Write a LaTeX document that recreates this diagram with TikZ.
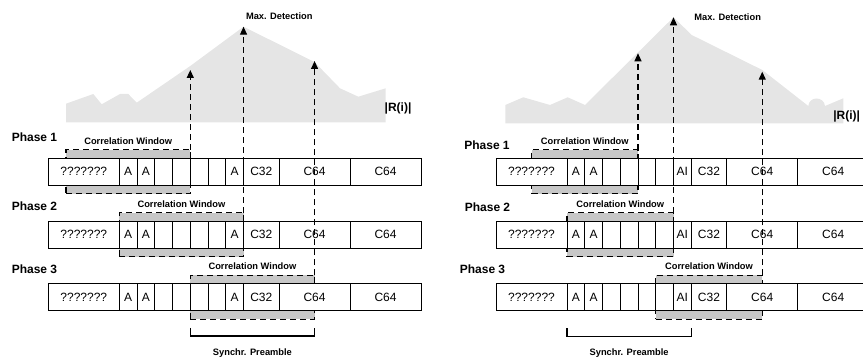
\documentclass[tikz,border=0pt]{standalone}
\usepackage{fontspec}
\setmainfont{Liberation Sans}
\usetikzlibrary{arrows.meta,positioning}

\def\cellw{17.75}
% one frame row: #1 name, #2 left x, #3 centre y, #4 text of last A cell
\newcommand{\framerow}[4]{%
  \foreach \ci/\cpos/\cwid/\ctext in {0/0/4/???????,1/4/1/A,2/5/1/A,3/6/1/{},4/7/1/{},5/8/1/{},6/9/1/{},7/10/1/#4,8/11/2/C32,9/13/4/C64,10/17/4/C64}
    \node[cell,minimum width=\cwid*\cellw,anchor=west] (#1c\ci) at ({#2+\cpos*\cellw},#3) {\ctext};
}

\begin{document}
\begin{tikzpicture}
	[x=1pt,y=-1pt,
	cell/.style={draw=black,fill=white,line width=1pt,minimum height=27,inner sep=0pt,outer sep=0pt,font=\fontsize{12}{14}\selectfont},
	window/.style={draw=black,fill=black!22,dash pattern=on 6pt off 4pt,line width=1.2pt,minimum height=44,inner sep=0pt,outer sep=0pt},
	detect/.style={draw=black,dash pattern=on 6pt off 4pt,line width=1.2pt,-{Triangle[width=7pt,length=8pt]}},
	tag/.style={font=\bfseries\fontsize{9.3}{11}\selectfont,inner sep=0pt},
	phase/.style={font=\bfseries\fontsize{12}{14}\selectfont,inner sep=0pt}]
	\clip (0,0) rectangle (863,358);
	
	% left half
	\fill[black!10] (66,122.3) -- (66,103.7) -- (93.3,94) -- (101.7,104.3) -- (120,94) -- (128.3,94) -- (136.7,102.7)
	-- (190.3,66) -- (243.5,26.7) -- (314.5,62) -- (340,88.3) -- (358.3,96.7) -- (385.7,88.3) -- (385.7,122.3) -- cycle;
	\node[tag] (Lmax) at (279.3,15.7) {Max. Detection};
	\node[phase] (Lri) at (398,108.3) {|R(i)|};
	
	\node[window,minimum width=7*\cellw,anchor=west] (LW1) at ({48.3+1*\cellw},171.7) {};
	\node[window,minimum width=7*\cellw,anchor=west] (LW2) at ({48.3+4*\cellw},234.6) {};
	\node[window,minimum width=7*\cellw,anchor=west] (LW3) at ({48.3+8*\cellw},297.2) {};
	\node[tag,above=5pt of LW1] (LW1lbl) {Correlation Window};
	\node[tag,above=5pt of LW2] (LW2lbl) {Correlation Window};
	\node[tag,above=5pt of LW3] (LW3lbl) {Correlation Window};
	
	\framerow{L1}{48.3}{171.7}{A}
	\framerow{L2}{48.3}{234.6}{A}
	\framerow{L3}{48.3}{297.2}{A}
	
	\node[phase] (Lph1) at (34.5,137) {Phase 1};
	\node[phase] (Lph2) at (34.5,206.7) {Phase 2};
	\node[phase] (Lph3) at (34.5,269) {Phase 3};
	
	\coordinate (LT1) at ({48.3+8*\cellw},70);
	\coordinate (LT2) at ({48.3+11*\cellw},26.7);
	\coordinate (LT3) at ({48.3+15*\cellw},61);
	\foreach \w in {1,2,3}
	\draw[detect] (LW\w.north east) -- (LT\w);
	
	\coordinate (LB1) at ({48.3+8*\cellw},328);
	\coordinate (LB2) at ({48.3+15*\cellw},328);
	\draw[line width=1.2pt] (LB1) -- ++(0,8) -| (LB2);
	\node[tag] (LBlbl) at ({48.3+11.5*\cellw},353.3) {Synchr. Preamble};
	
	% right half
	\fill[black!10] (505.3,123.3) -- (505.3,105) -- (523.3,97.3) -- (550,105) -- (567.7,97.3) -- (585,105)
	-- (673.5,17.3) -- (691.7,35) -- (762.3,70) -- (808.3,106) .. controls (809,96) and (824,96) .. (825,106)
	-- (843.3,98.3) -- (843.3,123.3) -- cycle;
	\node[tag] (Rmax) at (727.7,16.7) {Max. Detection};
	\node[phase] (Rri) at (846.7,116.7) {|R(i)|};
	
	\node[window,minimum width=6*\cellw,anchor=west] (RW1) at ({496+2*\cellw},171.7) {};
	\node[window,minimum width=6*\cellw,anchor=west] (RW2) at ({496+4*\cellw},234.6) {};
	\node[window,minimum width=6*\cellw,anchor=west] (RW3) at ({496+9*\cellw},297.2) {};
	\node[tag,above=5pt of RW1] (RW1lbl) {Correlation Window};
	\node[tag,above=5pt of RW2] (RW2lbl) {Correlation Window};
	\node[tag,above=5pt of RW3] (RW3lbl) {Correlation Window};
	
	\framerow{R1}{496}{171.7}{AI}
	\framerow{R2}{496}{234.6}{AI}
	\framerow{R3}{496}{297.2}{AI}
	
	\node[phase] (Rph1) at (487,145.7) {Phase 1};
	\node[phase] (Rph2) at (487.5,207.7) {Phase 2};
	\node[phase] (Rph3) at (482.5,269.3) {Phase 3};
	
	\coordinate (RT1) at ({496+8*\cellw},53.3);
	\coordinate (RT2) at ({496+10*\cellw},17.3);
	\coordinate (RT3) at ({496+15*\cellw},71.7);
	\foreach \w in {1,2,3}
	\draw[detect] (RW\w.north east) -- (RT\w);
	
	\coordinate (RB1) at ({496+4*\cellw},328.3);
	\coordinate (RB2) at ({496+11*\cellw},328.3);
	\draw[line width=1.2pt] (RB1) -- ++(0,8) -| (RB2);
	\node[tag] (RBlbl) at ({496+7.5*\cellw},353.3) {Synchr. Preamble};
	
\end{tikzpicture}
\end{document}
